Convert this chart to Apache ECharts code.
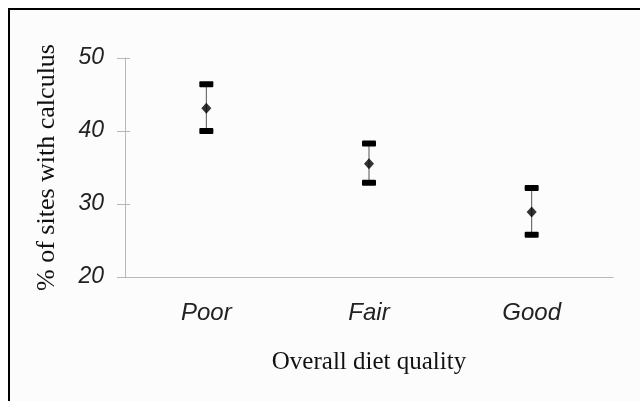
<!DOCTYPE html>
<html>
<head>
<meta charset="utf-8">
<script src="https://cdn.jsdelivr.net/npm/echarts@6/dist/echarts.min.js"></script>
<style>
    html, body { margin: 0; padding: 0; background: #fff; }
    .frame {
        position: absolute;
        left: 8px;
        top: 8px;
        width: 640px;
        height: 400px;
        border: 2px solid #000;
        background: #fcfcfc;
    }
    #chart { position: absolute; left: 0; top: 0; width: 640px; height: 401px; }
</style>
</head>
<body>
<div class="frame"></div>
<div id="chart"></div>
<script>
// diet quality groups and % of sites with calculus
const categories = ["Poor", "Fair", "Good"];
const means = [43.1, 35.5, 28.9];
const lower = [40.0, 32.9, 25.8];
const upper = [46.4, 38.3, 32.2];
const yTicks = [20, 30, 40, 50];

const axisGray = "#b8b8b8";
const serif = "'Liberation Serif', 'Times New Roman', serif";
const sans = "'Liberation Sans', Arial, sans-serif";

let chart = echarts.init(document.getElementById("chart"));

let option = {
    animation: false,
    grid: {
        left: 125,
        right: 27,
        top: 58,
        bottom: 124,
    },
    xAxis: {
        type: "category",
        data: categories,
        name: "Overall diet quality",
        nameLocation: "middle",
        nameGap: 73,
        nameTextStyle: {
            fontFamily: serif,
            fontSize: 25,
            color: "#111",
        },
        axisLine: { lineStyle: { color: axisGray, width: 1 } },
        axisTick: { show: false },
        axisLabel: {
            margin: 24,
            fontFamily: sans,
            fontStyle: "italic",
            fontSize: 24,
            color: "#222",
        },
    },
    yAxis: [
        {
            type: "value",
            min: yTicks[0],
            max: yTicks[yTicks.length - 1],
            interval: 10,
            name: "% of sites with calculus",
            nameLocation: "middle",
            nameGap: 65,
            nameTextStyle: {
                fontFamily: serif,
                fontSize: 26,
                color: "#111",
            },
            splitLine: { show: false },
            axisLine: { show: true, lineStyle: { color: axisGray, width: 1 } },
            axisTick: { show: true, length: 8, lineStyle: { color: axisGray } },
            axisLabel: {
                margin: 21,
                fontFamily: sans,
                fontStyle: "italic",
                fontSize: 23,
                color: "#222",
            },
        },
        {
            // short inner half of the crossing ticks
            type: "value",
            position: "left",
            min: yTicks[0],
            max: yTicks[yTicks.length - 1],
            interval: 10,
            splitLine: { show: false },
            axisLine: { show: false },
            axisTick: { show: true, inside: true, length: 5, lineStyle: { color: axisGray } },
            axisLabel: { show: false },
        },
    ],
    series: [
        {
            name: "range",
            type: "custom",
            data: categories.map((c, i) => [i, lower[i], upper[i]]),
            renderItem: function (params, api) {
                let idx = api.value(0);
                let lo = api.coord([idx, api.value(1)]);
                let hi = api.coord([idx, api.value(2)]);
                let capW = 14;
                let capH = 6;
                return {
                    type: "group",
                    children: [
                        {
                            type: "line",
                            shape: { x1: lo[0], y1: lo[1], x2: hi[0], y2: hi[1] },
                            style: { stroke: "#555", lineWidth: 1 },
                        },
                        {
                            type: "rect",
                            shape: { x: hi[0] - capW / 2, y: hi[1] - capH / 2, width: capW, height: capH, r: 1 },
                            style: { fill: "#000" },
                        },
                        {
                            type: "rect",
                            shape: { x: lo[0] - capW / 2, y: lo[1] - capH / 2, width: capW, height: capH, r: 1 },
                            style: { fill: "#000" },
                        },
                    ],
                };
            },
            z: 2,
        },
        {
            name: "mean",
            type: "scatter",
            data: means,
            symbol: "diamond",
            symbolSize: [10, 11],
            itemStyle: { color: "#000" },
            z: 3,
        },
    ],
};

chart.setOption(option);
</script>
</body>
</html>
